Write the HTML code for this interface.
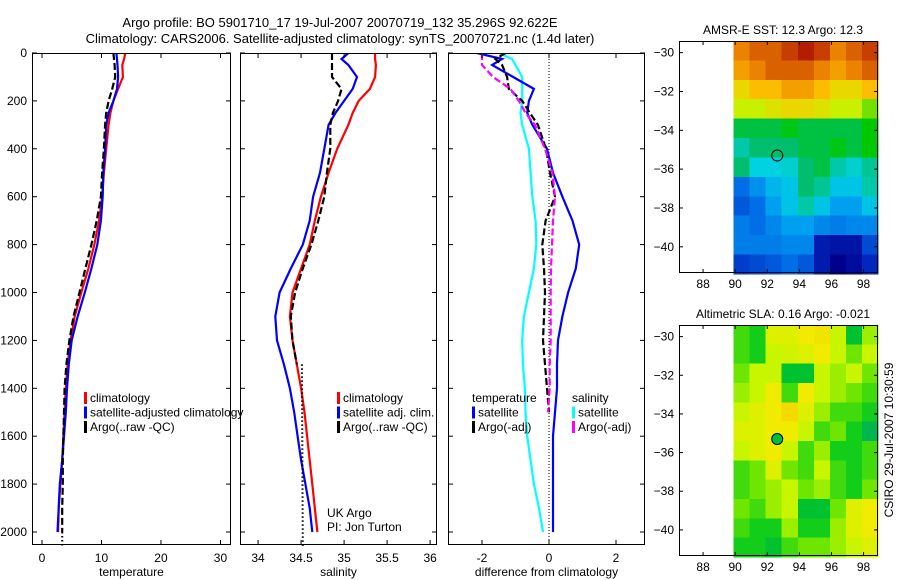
<!DOCTYPE html>
<html><head><meta charset="utf-8"><style>
body{margin:0;background:#fff;}
svg{display:block;font-family:"Liberation Sans",sans-serif;}
</style></head><body>
<svg id="fig" width="900" height="580" viewBox="0 0 900 580"></svg>
<script>
// ---- data ----
const depths=[0,25,50,100,150,200,250,300,400,500,600,700,800,900,1000,1100,1200,1300,1400,1500,1600,1700,1800,1900,2000];
const tempClim=[14,13.8,13.5,13.6,12.8,12,11.5,11.2,10.8,10.4,10.1,9.6,8.8,7.8,6.6,5.5,4.8,4.3,4,3.8,3.6,3.4,3.1,2.8,2.7];
const tempSat=[12.5,12.6,12.7,12.8,12.6,12,11.2,10.8,10.6,10.3,10.2,9.9,9.3,8.3,7.2,6,5,4.5,4.2,4,3.7,3.4,3,2.8,2.6];
const tempArgo=[12,12.1,12.2,12.3,11.8,11.2,10.8,10.6,10.4,10.1,9.9,9.2,8.3,7.3,6.3,5.3,4.6,4.1,3.8,3.7,3.6,3.5,3.5,3.4,3.4];
const salClim=[35.36,35.36,35.37,35.36,35.3,35.17,35.1,35.05,34.92,34.82,34.73,34.66,34.6,34.5,34.4,34.37,34.4,34.45,34.5,34.54,34.57,34.6,34.63,34.66,34.69];
const salSat=[35.05,34.97,35.05,35.15,35.1,35.0,34.9,34.82,34.77,34.72,34.64,34.6,34.52,34.38,34.25,34.2,34.22,34.3,34.37,34.42,34.46,34.5,34.55,34.6,34.63];
const salArgo=[34.86,34.86,34.86,34.86,34.97,34.93,34.87,34.84,34.84,34.8,34.77,34.7,34.62,34.52,34.43,34.38,34.4,34.45,34.5,34.52,34.53,34.53,34.52,34.52,34.51];
const dTempSat=[-2.15,-1.4,-1.7,-1.07,-0.45,-0.6,-0.65,-0.5,-0.06,0.12,0.4,0.7,0.9,0.8,0.57,0.4,0.27,0.24,0.24,0.18,0.12,0.12,0.12,0.12,0.12];
const dTempArgo=[-1.3,-1.6,-1.4,-1.25,-1.2,-0.8,-0.57,-0.33,-0.09,0.03,0.18,-0.1,-0.2,-0.15,-0.12,-0.15,-0.18,-0.12,-0.06,0.0];
const dSalSat=[-1.5,-1.1,-1.0,-0.8,-0.8,-0.8,-0.85,-0.8,-0.6,-0.55,-0.5,-0.4,-0.38,-0.45,-0.6,-0.75,-0.8,-0.78,-0.72,-0.7,-0.65,-0.55,-0.45,-0.3,-0.18];
const dSalArgo=[-2,-2,-2,-1.67,-1.15,-0.9,-0.7,-0.42,-0.12,0.1,0.18,0.12,0.09,0.06,0.05,0.05,0.05,0.02,0.02,-0.03];
const tempTicks=[0,10,20,30];
const salTicks=[34,34.5,35,35.5,36];
const salTickLabels=["34","34.5","35","35.5","36"];
const diffTicks=[-2,0,2];
const depthTicks=[0,200,400,600,800,1000,1200,1400,1600,1800,2000];
const mapLonTicks=[88,90,92,94,96,98];
const mapLatTicks=[-30,-32,-34,-36,-38,-40];
const sstGrid=[
[16.5,17,17,17.5,18,17.5,16.5,17,17.5],
[16,16.5,17,17,17,16.5,16,16.5,17],
[15,15.5,15.5,16,16,15.5,15,15,15.5],
[14.5,14.5,14.8,15,15,14.8,14.5,14.5,14],
[13,13,13,13.2,13,13,13,13,13.3],
[12.5,12.8,12.8,12.8,13,13,13.2,13,13.3],
[12.8,12.2,12.2,12.3,12.8,13,12.5,12.3,12.6],
[10.5,11.2,11.8,12,12.8,12.6,12,12,12.5],
[10.2,10.5,11.5,12,12.5,12,11.5,11.5,12],
[10.8,10.5,11,11.5,11.5,11,10.8,11,11],
[10.8,10.8,10.8,11,11,9.2,9,9,10],
[9.8,10,10.2,10.5,10.2,9.2,8.5,8.8,9.5]];
const slaGrid=[
[-0.05,-0.1,0.15,0.15,0.2,0.22,0.1,-0.15,0.05],
[-0.05,-0.1,0.1,0.12,0.15,0.2,0.1,0.0,0.1],
[0.0,0.1,0.1,-0.15,-0.15,0.1,0.05,0.1,0.0],
[0.05,0.1,0.2,-0.05,0.2,0.1,0.05,0.0,-0.05],
[0.1,0.15,0.2,0.25,0.15,0.05,-0.05,-0.05,-0.1],
[0.15,0.15,0.2,0.2,0.1,-0.05,0.0,-0.1,-0.2],
[0.1,0.15,0.2,0.1,-0.05,0.05,-0.1,-0.1,-0.05],
[-0.05,0.0,0.15,0.0,-0.05,0.1,-0.05,-0.1,-0.05],
[-0.05,0.0,0.05,0.1,0.0,0.05,-0.05,-0.1,0.0],
[0.0,-0.05,0.05,0.1,-0.15,-0.15,0.0,0.15,0.2],
[-0.05,-0.1,-0.1,0.05,-0.1,-0.1,0.05,0.15,0.2],
[-0.1,-0.1,-0.15,-0.05,0.0,0.0,0.05,0.1,0.15]];
const argoLon=92.62, argoLat=-35.3;

const NS="http://www.w3.org/2000/svg";
const svg=document.getElementById('fig');
function mk(tag,attrs,parent){const e=document.createElementNS(NS,tag);for(const k in attrs)e.setAttribute(k,attrs[k]);(parent||svg).appendChild(e);return e;}
function txt(x,y,s,anchor,size,parent){const t=mk('text',{x:x,y:y,'text-anchor':anchor||'middle','font-size':size||12,fill:'#000'},parent);t.textContent=s;return t;}

const yTop=53,yBot=545,dScale=(532-53)/2000;
const yD=d=>yTop+d*dScale;

const panels=[
 {name:'temperature-panel',x0:32,x1:231,v0:-1.68,v1:31.77,ticks:tempTicks,labels:tempTicks.map(String),xlabel:'temperature'},
 {name:'salinity-panel',x0:240,x1:437,v0:33.79,v1:36.08,ticks:salTicks,labels:salTickLabels,xlabel:'salinity'},
 {name:'difference-panel',x0:448,x1:645,v0:-2.0-34/33.5,v1:2+29/33.5,ticks:diffTicks,labels:diffTicks.map(String),xlabel:'difference from climatology'}
];
panels.forEach(p=>{p.xf=v=>p.x0+(v-p.v0)/(p.v1-p.v0)*(p.x1-p.x0);});

panels.forEach((p,i)=>{
 const g=mk('g',{});
 
 
 p.g=g;
 const cp=mk('clipPath',{id:'cp'+i},g);
 mk('rect',{x:p.x0,y:yTop,width:p.x1-p.x0,height:yBot-yTop},cp);
 p.clip='url(#cp'+i+')';
});

function line(p,vals,color,dash,name,n){
 let pts=[];
 for(let i=0;i<(n||vals.length);i++)pts.push(p.xf(vals[i]).toFixed(1)+','+yD(depths[i]).toFixed(1));
 const el=mk('polyline',{points:pts.join(' '),fill:'none',stroke:color,'stroke-width':2.2,'stroke-dasharray':dash||'none','clip-path':p.clip},p.g);
 
 
 return el;
}
const P=panels;
line(P[0],tempClim,'#ff0000',null,'temp-climatology-line');
line(P[0],tempSat,'#0000ff',null,'temp-satellite-line');
line(P[0],tempArgo,'#000',"7,3",'temp-argo-line');
{const el=mk('line',{x1:P[0].xf(3.4),x2:P[0].xf(3.4),y1:yD(2000),y2:yD(2060),stroke:'#000','stroke-width':2,'stroke-dasharray':'1.5,2.5'},P[0].g);}
line(P[1],salClim,'#ff0000',null,'sal-climatology-line');
line(P[1],salSat,'#0000ff',null,'sal-satellite-line');
line(P[1],salArgo.slice(0,18),'#000',"7,3",'sal-argo-line',18);
{const el=mk('line',{x1:P[1].xf(34.51),x2:P[1].xf(34.52),y1:yD(1300),y2:yD(2060),stroke:'#000','stroke-width':2,'stroke-dasharray':'1.5,2.5'},P[1].g);}
{const el=mk('line',{x1:P[2].xf(0),x2:P[2].xf(0),y1:yTop,y2:yBot,stroke:'#000','stroke-width':1,'stroke-dasharray':'1,2'},P[2].g);}
line(P[2],dSalSat,'#00ffff',null,'diff-sal-satellite-line');
line(P[2],dTempSat,'#0000ff',null,'diff-temp-satellite-line');
line(P[2],dTempArgo,'#000',"7,3",'diff-temp-argo-line',dTempArgo.length);
line(P[2],dSalArgo,'#ff00ff',"7,3",'diff-sal-argo-line',dSalArgo.length);

panels.forEach((p,i)=>{
 const f=mk('rect',{x:p.x0+0.5,y:yTop+0.5,width:p.x1-p.x0-1,height:yBot-yTop-1,fill:'none',stroke:'#000','stroke-width':1},p.g);
 
 p.ticks.forEach((t,j)=>{
  const x=p.xf(t);
  mk('line',{x1:x,x2:x,y1:yBot,y2:yBot-5,stroke:'#000'},p.g);
  mk('line',{x1:x,x2:x,y1:yTop,y2:yTop+5,stroke:'#000'},p.g);
  const l=txt(x,562,p.labels[j],'middle',12,p.g);
  
 });
 depthTicks.forEach(d=>{
  const y=yD(d);
  mk('line',{x1:p.x0,x2:p.x0+5,y1:y,y2:y,stroke:'#000'},p.g);
  mk('line',{x1:p.x1,x2:p.x1-5,y1:y,y2:y,stroke:'#000'},p.g);
  if(i===0){const l=txt(27,y+4,String(d),'end',12,p.g);}
 });
 const xl=txt((p.x0+p.x1)/2,576,p.xlabel,'middle',12,p.g);
 
});

function legend(items,x,y,name){
 const g=mk('g',{});
 items.forEach((it,k)=>{
  if(it[0])mk('rect',{x:x,y:y+k*14.5-10,width:3,height:12,fill:it[0]},g);
  const t=txt(x+(it[0]?6:0),y+k*14.5,it[1],'start',12,g);
  
 });
}
legend([['#ff0000','climatology'],['#0000ff','satellite-adjusted climatology'],['#000','Argo(..raw -QC)']],84,402,'temperature-legend');
legend([['#ff0000','climatology'],['#0000ff','satellite adj. clim.'],['#000','Argo(..raw -QC)']],337,402,'salinity-legend');
legend([[null,'temperature'],['#0000ff','satellite'],['#000','Argo(-adj)']],472,402,'diff-temp-legend');
legend([[null,'salinity'],['#00ffff','satellite'],['#ff00ff','Argo(-adj)']],572,402,'diff-sal-legend');
{const t=txt(327,517,'UK Argo','start',12);
 const t2=txt(327,531,'PI: Jon Turton','start',12);}

{const t=txt(340,27,'Argo profile: BO 5901710_17 19-Jul-2007 20070719_132 35.296S 92.622E','middle',13);
 const t2=txt(340,43,'Climatology: CARS2006. Satellite-adjusted climatology: synTS_20070721.nc (1.4d later)','middle',13);}

function interp(stops,v){
 if(v<=stops[0][0])return stops[0][1];
 for(let i=1;i<stops.length;i++){if(v<=stops[i][0]){const a=stops[i-1],b=stops[i],f=(v-a[0])/(b[0]-a[0]);return 'rgb('+[0,1,2].map(k=>Math.round(a[1][k]+(b[1][k]-a[1][k])*f)).join(',')+')';}}
 return stops[stops.length-1][1];
}
function rgb(c){return typeof c==='string'?c:'rgb('+c.join(',')+')';}
const sstStops=[[8.5,[0,0,140]],[9.5,[0,40,190]],[10.5,[0,110,230]],[11.5,[0,160,240]],[12.2,[0,210,225]],[12.8,[0,190,110]],[13.3,[0,200,0]],[14.5,[200,240,0]],[15.3,[255,200,0]],[16.5,[235,130,0]],[18,[180,30,0]]];
const slaStops=[[-0.25,[0,170,110]],[-0.12,[0,200,30]],[0,[110,230,0]],[0.1,[200,245,0]],[0.2,[240,235,0]],[0.3,[245,200,0]]];
function drawMap(name,top,bottom,grid,stops,title,filled){
 const g=mk('g',{});
 const x0=679,x1=878,lonL=86.5,lonR=98.9,latT=-29.4,latB=-41.35;
 const latScale=(bottom-top)/(latT-latB);
 const xf=lon=>x0+(lon-lonL)/(lonR-lonL)*(x1-x0);
 const yf=lat=>top+(latT-lat)*latScale;
 grid.forEach((row,r)=>row.forEach((v,c)=>{
  const la=latT-r, lo=89.9+c;
  const cell=mk('rect',{x:xf(lo).toFixed(1),y:yf(la).toFixed(1),width:(xf(lo+1)-xf(lo)+0.6).toFixed(1),height:(yf(la-1)-yf(la)+0.6).toFixed(1),fill:rgb(interp(stops,v)),'shape-rendering':'crispEdges'},g);
  
 }));
 mk('rect',{x:x0+0.5,y:top+0.5,width:x1-x0-1,height:bottom-top-1,fill:'none',stroke:'#000'},g);
 mapLonTicks.forEach(t=>{const x=xf(t);mk('line',{x1:x,x2:x,y1:bottom,y2:bottom-4,stroke:'#000'},g);mk('line',{x1:x,x2:x,y1:top,y2:top+4,stroke:'#000'},g);
  const l=txt(x,bottom+15,String(t),'middle',12,g);});
 mapLatTicks.forEach(t=>{const y=yf(t);mk('line',{x1:x0,x2:x0+4,y1:y,y2:y,stroke:'#000'},g);mk('line',{x1:x1,x2:x1-4,y1:y,y2:y,stroke:'#000'},g);
  const l=txt(x0-5,y+4,String(t).replace('-','\u2212'),'end',12,g);});
 const c=mk('circle',{cx:xf(argoLon),cy:yf(argoLat),r:5.5,fill:filled?'rgb(0,190,60)':'none',stroke:'#000','stroke-width':1},g);
 
 const t=txt(783,top-7,title,'middle',12,g);
}
drawMap('sst-map',41,273,sstGrid,sstStops,'AMSR-E SST: 12.3 Argo: 12.3',false);
drawMap('sla-map',325,556,slaGrid,slaStops,'Altimetric SLA: 0.16 Argo: -0.021',true);
{const t=txt(0,0,'CSIRO 29-Jul-2007 10:30:59','middle',12);t.setAttribute('transform','translate(893,440) rotate(-90)');}
</script>
</body></html>
